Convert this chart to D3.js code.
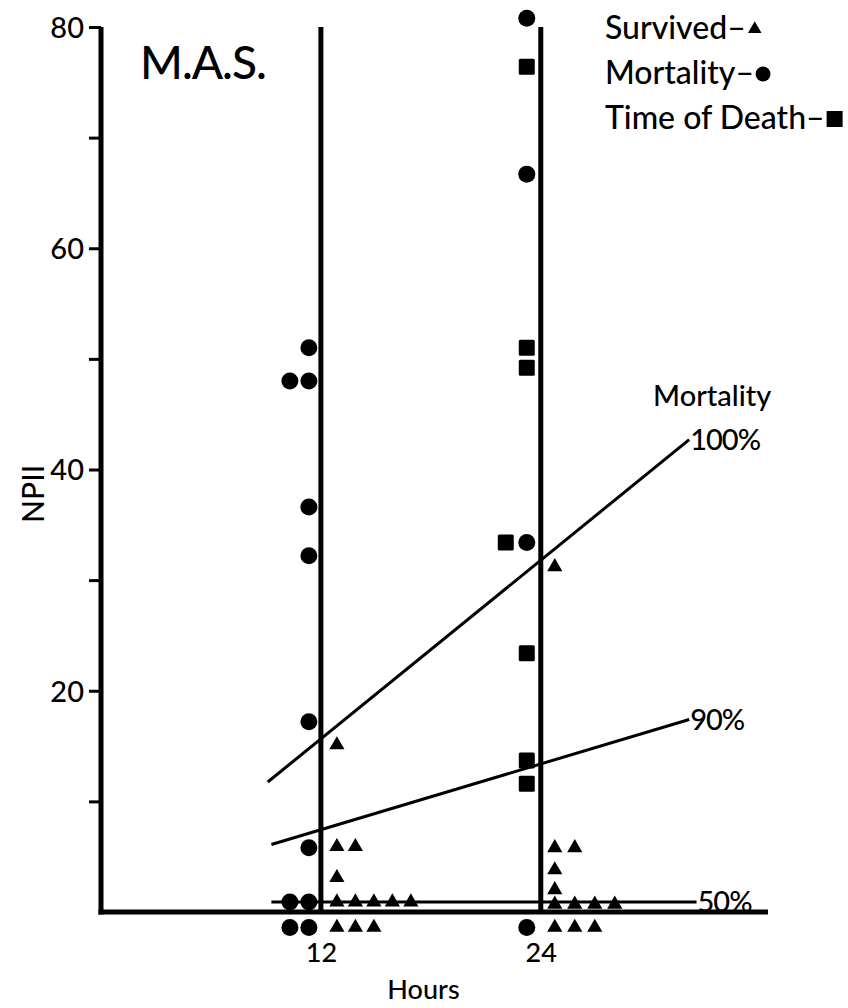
<!DOCTYPE html>
<html>
<head>
<meta charset="utf-8">
<script src="https://cdn.jsdelivr.net/npm/d3@7"></script>
<style>
  html, body { margin: 0; padding: 0; background: #fff; }
  svg { display: block; }
  text { font-family: Lato, "Noto Sans", sans-serif; fill: #000; font-weight: 500; }
</style>
</head>
<body>
<svg id="chart" width="848" height="1008"></svg>
<script>
// ---- data ----
const columns = [12, 24];
const xTickLabels = ["12", "24"];
const yMajorTicks = [20, 40, 60, 80];
const yMinorTicks = [10, 30, 50, 70];

// NPII values
const mortality12 = [51.0, 48.0, 48.0, 36.6, 32.2, 17.2, 5.8, 0.9, 0.9, -1.4, -1.4];
const mortality24 = [80.8, 66.7, 33.4, -1.4];
const timeOfDeath24 = [76.4, 51.0, 49.2, 33.4, 23.4, 13.7, 11.6];
const survived12 = [15.1, 5.9, 5.9, 3.1, 0.9, 0.9, 0.9, 0.9, 0.9, -1.4, -1.4, -1.4];
const survived24 = [31.2, 5.8, 5.8, 3.8, 2.0, 0.7, 0.7, 0.7, 0.7, -1.4, -1.4, -1.4];

// mortality iso-lines: [hours, NPII] endpoints
const lineLabels = ["100%", "90%", "50%"];
const lineStarts = [[9.1, 11.75], [9.3, 6.1], [9.3, 0.9]];
const lineEnds = [[32.1, 42.7], [32.1, 17.4], [32.5, 0.9]];

const legendLabels = ["Survived–", "Mortality–", "Time of Death–"];

// ---- scales ----
const svg = d3.select("#chart");
const x = d3.scaleLinear().domain([0, 36.4]).range([101, 768]);
const y = d3.scaleLinear().domain([0, 80]).range([912, 27]);

// y axis
const yAxis = d3.axisLeft(y).tickValues(yMajorTicks).tickSize(12).tickPadding(5).tickSizeOuter(0);
const gy = svg.append("g").attr("transform", `translate(${x(0)},0)`).call(yAxis);
gy.select(".domain").attr("stroke-width", 5).attr("d", `M0,${y(80)}V${y(0) + 2.5}`);
gy.selectAll(".tick line").attr("stroke-width", 3);
gy.selectAll(".tick text").style("font-size", "29px").attr("dy", "0.36em");
const yAxisMinor = d3.axisLeft(y).tickValues(yMinorTicks).tickSize(12).tickFormat("").tickSizeOuter(0);
const gym = svg.append("g").attr("transform", `translate(${x(0)},0)`).call(yAxisMinor);
gym.select(".domain").remove();
gym.selectAll(".tick line").attr("stroke-width", 3);

// x axis
const xAxis = d3.axisBottom(x).tickValues(columns).tickFormat((d, i) => xTickLabels[i]).tickSize(0).tickPadding(31).tickSizeOuter(0);
const gx = svg.append("g").attr("transform", `translate(0,${y(0)})`).call(xAxis);
gx.select(".domain").attr("stroke-width", 5).attr("d", `M${x(0) - 2.5},0H${x(36.4)}`);
gx.selectAll(".tick text").style("font-size", "27px");

// vertical column lines
svg.selectAll(".col").data(columns).join("line")
  .attr("x1", d => x(d)).attr("x2", d => x(d))
  .attr("y1", y(80)).attr("y2", y(0))
  .attr("stroke", "#000").attr("stroke-width", 5);

// axis titles
svg.append("text").attr("x", x(17.6)).attr("y", 999).attr("text-anchor", "middle")
  .style("font-size", "27px").text("Hours");
svg.append("text").attr("transform", `translate(44,${y(37.8)}) rotate(-90)`).attr("text-anchor", "middle")
  .style("font-size", "30px").text("NPII");

// title
svg.append("text").attr("x", 140).attr("y", 79).style("font-size", "46px").style("letter-spacing", "-1px").text("M.A.S.");

// mortality lines
lineLabels.forEach((lab, i) => {
  svg.append("line")
    .attr("x1", x(lineStarts[i][0])).attr("y1", y(lineStarts[i][1]))
    .attr("x2", x(lineEnds[i][0])).attr("y2", y(lineEnds[i][1]))
    .attr("stroke", "#000").attr("stroke-width", 3);
  svg.append("text").attr("x", x(lineEnds[i][0]) + 1).attr("y", y(lineEnds[i][1]))
    .attr("dy", "0.36em").style("font-size", "29px").style("letter-spacing", "-1px").text(lab);
});
svg.append("text").attr("x", x(lineEnds[0][0]) + 23).attr("y", y(lineEnds[0][1]) - 34)
  .attr("text-anchor", "middle").style("font-size", "29px").text("Mortality");

// ---- markers ----
// left side (circles then squares), right side (triangles); same value -> next slot
function layout(col, items, side, first, step) {
  const counts = new Map();
  return items.map(it => {
    const k = it.v.toFixed(2);
    const n = counts.get(k) || 0;
    counts.set(k, n + 1);
    return { ...it, px: x(col) + side * (first + n * step), py: y(it.v) };
  });
}
const left12 = layout(12, mortality12.map(v => ({ v, t: "c" })), -1, 12, 19);
const left24 = layout(24, mortality24.map(v => ({ v, t: "c" })).concat(timeOfDeath24.map(v => ({ v, t: "s" }))), -1, 14, 21);
const right12 = layout(12, survived12.map(v => ({ v, t: "t" })), 1, 16, 18.5);
const right24 = layout(24, survived24.map(v => ({ v, t: "t" })), 1, 14, 20);
const allMarks = left12.concat(left24, right12, right24);

const tri = d3.symbol().type(d3.symbolTriangle).size(100);
svg.selectAll(".mk").data(allMarks).join(enter => enter.append("g"))
  .attr("transform", d => `translate(${d.px},${d.py})`)
  .each(function (d) {
    const g = d3.select(this);
    if (d.t === "c") g.append("circle").attr("r", 8.5).attr("fill", "#000");
    else if (d.t === "s") g.append("rect").attr("x", -8).attr("y", -8).attr("width", 16).attr("height", 16).attr("rx", 1.5).attr("fill", "#000");
    else g.append("path").attr("d", tri).attr("fill", "#000");
  });

// ---- legend ----
const legendY = [39, 84, 129];
legendLabels.forEach((lab, i) => {
  const t = svg.append("text").attr("x", 605).attr("y", legendY[i]).style("font-size", "32px").text(lab);
  const w = t.node().getComputedTextLength();
  const mx = 605 + w + 9;
  const my = legendY[i] - 10;
  if (i === 0) svg.append("path").attr("d", d3.symbol().type(d3.symbolTriangle).size(80)()).attr("transform", `translate(${mx},${my})`);
  if (i === 1) svg.append("circle").attr("cx", mx).attr("cy", my).attr("r", 7.5);
  if (i === 2) svg.append("rect").attr("x", mx - 7).attr("y", my - 8).attr("width", 16).attr("height", 16);
});
</script>
</body>
</html>
